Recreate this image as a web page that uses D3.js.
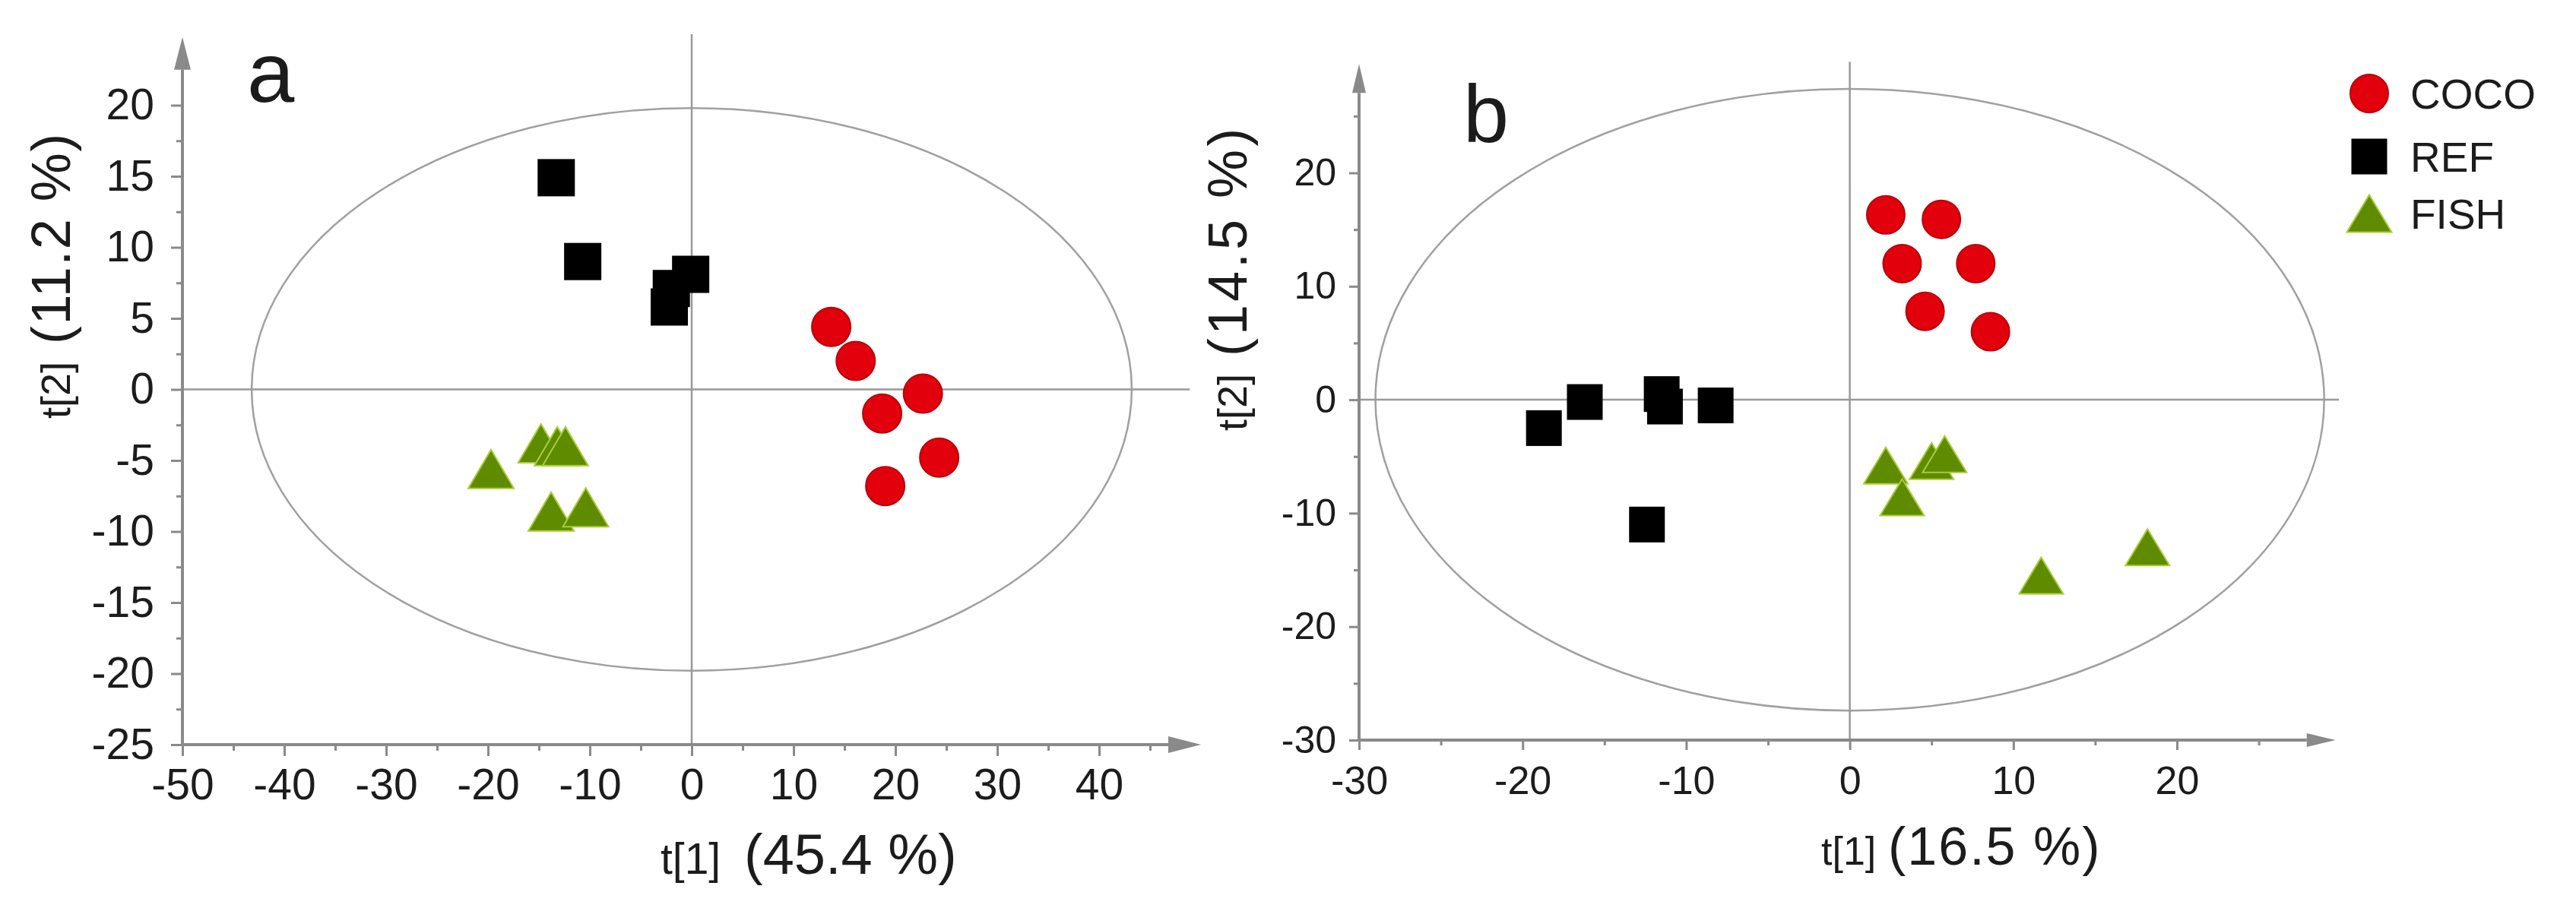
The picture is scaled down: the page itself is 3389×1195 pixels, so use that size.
<!DOCTYPE html>
<html>
<head>
<meta charset="utf-8">
<title>PCA score plots</title>
<script src="https://d3js.org/d3.v7.min.js"></script>
<style>
  body { margin: 0; background: #fff; }
  svg text { font-family: "Liberation Sans", Arial, Helvetica, sans-serif; fill: #1c1c1c; }
</style>
</head>
<body>
<svg id="chart" width="3389" height="1195"></svg>
<script>
// values
const groups = ["COCO", "REF", "FISH"];

// panel a  [t1, t2]
const cocoA = [[13.7, 4.4], [16.1, 2.0], [22.7, -0.3], [18.7, -1.7], [24.3, -4.8], [19.0, -6.8]];
const refA  = [[-13.3, 14.9], [-10.7, 9.0], [-0.1, 8.1], [-2.0, 7.1], [-2.2, 5.8]];
const fishA = [[-19.7, -5.6], [-14.8, -3.8], [-13.2, -4.0], [-12.4, -4.0], [-13.8, -8.6], [-10.4, -8.3]];

// panel b  [t1, t2]
const cocoB = [[2.2, 16.3], [5.6, 15.9], [3.2, 12.0], [7.7, 12.0], [4.6, 7.8], [8.6, 6.0]];
const refB  = [[-18.7, -2.5], [-16.2, -0.2], [-11.5, 0.5], [-11.3, -0.6], [-8.2, -0.5], [-12.4, -11.0]];
const fishB = [[2.2, -5.8], [3.2, -8.6], [5.0, -5.4], [5.8, -4.8], [11.7, -15.5], [18.2, -13.0]];

// tick labels
const xTicksA = [-50, -40, -30, -20, -10, 0, 10, 20, 30, 40];
const yTicksA = [-25, -20, -15, -10, -5, 0, 5, 10, 15, 20];
const xMinorA = [-45, -35, -25, -15, -5, 5, 15, 25, 35, 45];
const yMinorA = [-22.5, -17.5, -12.5, -7.5, -2.5, 2.5, 7.5, 12.5, 17.5];
const xTicksB = [-30, -20, -10, 0, 10, 20];
const yTicksB = [-30, -20, -10, 0, 10, 20];
const xMinorB = [-25, -15, -5, 5, 15, 25];
const yMinorB = [-25, -15, -5, 5, 15, 25];

// Hotelling ellipse half-axes [t1, t2]
const ellipseA = [43.2, 19.8];
const ellipseB = [29.0, 27.4];

const svg = d3.select("#chart");
const axisGrey = "#8a8a8a";

function marker(sel, kind, size) {
  if (kind === "COCO") {
    sel.append("circle").attr("r", size.c)
      .attr("fill", "#e2000c").attr("stroke", "#b80008").attr("stroke-width", 2);
  } else if (kind === "REF") {
    sel.append("rect").attr("x", -size.s / 2).attr("y", -size.s / 2)
      .attr("width", size.s).attr("height", size.s).attr("fill", "#000");
  } else {
    const w = size.tw, h = size.th;
    sel.append("path").attr("d", `M${-w / 2},${h / 2}L0,${-h / 2}L${w / 2},${h / 2}Z`)
      .attr("fill", "#5f8b00").attr("stroke", "#a9cc3a").attr("stroke-width", 2);
  }
}

function drawPanel(p) {
  const x = d3.scaleLinear().domain(p.xDomain).range(p.xRange);
  const y = d3.scaleLinear().domain(p.yDomain).range(p.yRange);
  const g = svg.append("g");
  const xa = x(p.xDomain[0]), ya = y(p.yDomain[0]);

  g.append("ellipse")
    .attr("cx", x(0)).attr("cy", y(0))
    .attr("rx", x(p.ellipse[0]) - x(0)).attr("ry", y(0) - y(p.ellipse[1]))
    .attr("fill", "none").attr("stroke", "#a0a0a0").attr("stroke-width", 2.5);

  // zero lines
  g.append("line").attr("x1", xa).attr("x2", x(p.zeroEnd[0]))
    .attr("y1", y(0)).attr("y2", y(0))
    .attr("stroke", "#999").attr("stroke-width", 2.5);
  g.append("line").attr("x1", x(0)).attr("x2", x(0))
    .attr("y1", ya).attr("y2", y(p.zeroEnd[1]))
    .attr("stroke", "#999").attr("stroke-width", 2.5);

  // minor ticks
  g.append("g").attr("transform", `translate(0,${ya})`)
    .call(d3.axisBottom(x).tickValues(p.xMinor).tickSize(p.minorLen).tickSizeOuter(0).tickFormat(""));
  g.append("g").attr("transform", `translate(${xa},0)`)
    .call(d3.axisLeft(y).tickValues(p.yMinor).tickSize(p.minorLen).tickSizeOuter(0).tickFormat(""));

  // major ticks + labels
  const gx = g.append("g").attr("transform", `translate(0,${ya})`)
    .call(d3.axisBottom(x).tickValues(p.xTicks).tickSize(p.majorLen).tickSizeOuter(0)
      .tickPadding(p.xPad).tickFormat(d => String(d)));
  const gy = g.append("g").attr("transform", `translate(${xa},0)`)
    .call(d3.axisLeft(y).tickValues(p.yTicks).tickSize(p.majorLen).tickSizeOuter(0)
      .tickPadding(p.yPad).tickFormat(d => String(d)));
  gx.selectAll("text").style("font-size", p.xFont + "px");
  gy.selectAll("text").style("font-size", p.yFont + "px");

  g.selectAll(".domain").remove();
  g.selectAll(".tick line").attr("stroke", axisGrey).attr("stroke-width", 3);

  // axis lines with arrow heads
  const xTip = x(p.arrowEnd[0]), yTip = y(p.arrowEnd[1]);
  const al = p.arrow[0], aw = p.arrow[1];
  g.append("line").attr("x1", xa - 2).attr("x2", xTip - al).attr("y1", ya).attr("y2", ya)
    .attr("stroke", axisGrey).attr("stroke-width", 4);
  g.append("path").attr("d", `M${xTip},${ya}L${xTip - al},${ya - aw}L${xTip - al},${ya + aw}Z`)
    .attr("fill", axisGrey);
  g.append("line").attr("x1", xa).attr("x2", xa).attr("y1", ya + 2).attr("y2", yTip + al)
    .attr("stroke", axisGrey).attr("stroke-width", 4);
  g.append("path").attr("d", `M${xa},${yTip}L${xa - aw},${yTip + al}L${xa + aw},${yTip + al}Z`)
    .attr("fill", axisGrey);

  // points
  p.series.forEach((s, i) => {
    g.append("g").selectAll("g").data(s).enter().append("g")
      .attr("transform", d => `translate(${x(d[0])},${y(d[1])})`)
      .each(function () { marker(d3.select(this), groups[i], p.size); });
  });

  // panel letter
  g.append("text").attr("x", p.letter[1]).attr("y", p.letter[2])
    .style("font-size", p.letter[3] + "px").text(p.letter[0]);

  // axis titles
  const xt = g.append("text").attr("x", p.xTitle.x).attr("y", p.xTitle.y);
  xt.append("tspan").style("font-size", p.xTitle.f1 + "px").text(p.xTitle.t1);
  xt.append("tspan").attr("x", p.xTitle.x2).style("font-size", p.xTitle.f2 + "px")
    .style("letter-spacing", p.xTitle.ls + "px").text(p.xTitle.t2);

  const yt = g.append("text").attr("transform", `translate(${p.yTitle.x},${p.yTitle.y}) rotate(-90)`);
  yt.append("tspan").style("font-size", p.yTitle.f1 + "px").text(p.yTitle.t1);
  yt.append("tspan").attr("x", p.yTitle.x2).style("font-size", p.yTitle.f2 + "px")
    .style("letter-spacing", p.yTitle.ls + "px").text(p.yTitle.t2);

  return { x, y };
}

drawPanel({
  xDomain: [-50, 40], xRange: [240, 1446],
  yDomain: [-25, 20], yRange: [980, 138.5],
  ellipse: ellipseA, zeroEnd: [48.9, 25.0], arrowEnd: [50.0, 24.8],
  xTicks: xTicksA, yTicks: yTicksA, xMinor: xMinorA, yMinor: yMinorA,
  majorLen: 15, minorLen: 8, xPad: 17, yPad: 22, xFont: 57, yFont: 57,
  arrow: [43, 11],
  series: [cocoA, refA, fishA],
  size: { c: 25.5, s: 49, tw: 60, th: 51 },
  letter: ["a", 325, 134, 112],
  xTitle: { x: 869, y: 1150, t1: "t[1]", f1: 57, x2: 979, t2: "(45.4 %)", f2: 74, ls: 0 },
  yTitle: { x: 92, y: 551, t1: "t[2]", f1: 54, x2: 98, t2: "(11.2 %)", f2: 72, ls: 1.5 }
});

drawPanel({
  xDomain: [-30, 20], xRange: [1788, 2864],
  yDomain: [-30, 20], yRange: [974, 227.5],
  ellipse: ellipseB, zeroEnd: [29.9, 29.8], arrowEnd: [29.7, 29.6],
  xTicks: xTicksB, yTicks: yTicksB, xMinor: xMinorB, yMinor: yMinorB,
  majorLen: 13, minorLen: 7, xPad: 21, yPad: 17, xFont: 52, yFont: 50,
  arrow: [38, 9],
  series: [cocoB, refB, fishB],
  size: { c: 25, s: 47, tw: 58, th: 48 },
  letter: ["b", 1925, 187, 108],
  xTitle: { x: 2396, y: 1138, t1: "t[1]", f1: 52, x2: 2484, t2: "(16.5 %)", f2: 70, ls: 2 },
  yTitle: { x: 1640, y: 567, t1: "t[2]", f1: 54, x2: 98, t2: "(14.5 %)", f2: 72, ls: 4 }
});

// legend
const legendY = [123, 206, 281];
const legend = svg.append("g").selectAll("g").data(groups).enter().append("g")
  .attr("transform", (d, i) => `translate(3117,${legendY[i]})`);
legend.each(function (d) { marker(d3.select(this), d, { c: 25, s: 47, tw: 59, th: 49 }); });
legend.append("text").attr("x", 54).attr("dy", "0.36em")
  .style("font-size", "55px").text(d => d);
</script>
</body>
</html>
